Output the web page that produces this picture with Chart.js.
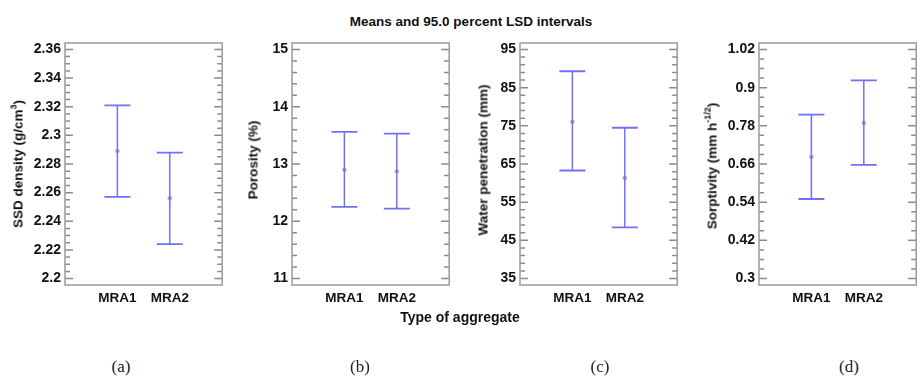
<!DOCTYPE html>
<html>
<head>
  <title>Means and 95.0 percent LSD intervals</title>
  <script src="https://cdn.jsdelivr.net/npm/chart.js"></script>
  <style>
    body { margin:0; width:922px; height:377px; overflow:hidden; background:#fff; position:relative; font-family:"Liberation Sans", Arial, sans-serif; color:#111; }
    canvas { position:absolute; top:0; }
    .bold { position:absolute; font-weight:bold; white-space:nowrap; transform:translate(-50%,-50%); }
    .ytitle { position:absolute; font-weight:bold; font-size:13.5px; white-space:nowrap; transform:translate(-50%,-50%) rotate(-90deg); }
    .ytitle sup { font-size:9px; vertical-align:6px; line-height:0; }
    .sub { position:absolute; font-family:"Liberation Serif", "DejaVu Serif", serif; font-size:17px; color:#222; transform:translate(-50%,-50%); }
  </style>
</head>
<body>
  <div class="bold" style="left:471px; top:21px; font-size:13.5px">Means and 95.0 percent LSD intervals</div>

  <canvas id="chartA" width="222" height="315" style="left:15px"></canvas>
  <canvas id="chartB" width="222" height="315" style="left:242px"></canvas>
  <canvas id="chartC" width="222" height="315" style="left:470px"></canvas>
  <canvas id="chartD" width="222" height="315" style="left:709px"></canvas>

  <div class="ytitle" style="left:18px; top:164px">SSD density (g/cm<sup>3</sup>)</div>
  <div class="ytitle" style="left:253px; top:160px">Porosity (%)</div>
  <div class="ytitle" style="left:483px; top:160px">Water penetration (mm)</div>
  <div class="ytitle" style="left:712px; top:166px">Sorptivity (mm h<sup>-1/2</sup>)</div>

  <div class="bold" style="left:460px; top:317px; font-size:14px">Type of aggregate</div>

  <div class="sub" style="left:121px; top:367px">(a)</div>
  <div class="sub" style="left:360px; top:367px">(b)</div>
  <div class="sub" style="left:600px; top:367px">(c)</div>
  <div class="sub" style="left:849px; top:367px">(d)</div>

  <script>
    const groups = ['MRA1', 'MRA2'];

    // (a) SSD density
    const ssdMean = [2.289, 2.256];
    const ssdLow = [2.257, 2.224];
    const ssdHigh = [2.321, 2.288];
    const ssdTicks = [2.2, 2.22, 2.24, 2.26, 2.28, 2.3, 2.32, 2.34, 2.36];

    // (b) porosity
    const porMean = [12.90, 12.87];
    const porLow = [12.25, 12.22];
    const porHigh = [13.56, 13.53];
    const porTicks = [11, 12, 13, 14, 15];

    // (c) water penetration
    const wpMean = [76.1, 61.3];
    const wpLow = [63.3, 48.4];
    const wpHigh = [89.3, 74.5];
    const wpTicks = [35, 45, 55, 65, 75, 85, 95];

    // (d) sorptivity
    const sorMean = [0.682, 0.789];
    const sorLow = [0.550, 0.657];
    const sorHigh = [0.815, 0.923];
    const sorTicks = [0.3, 0.42, 0.54, 0.66, 0.78, 0.9, 1.02];

    const barColor = 'rgb(112,112,255)';
    const meanColor = 'rgb(168,168,140)';

    // box border + inward tick marks on both sides
    const boxTicks = {
      id: 'boxTicks',
      beforeDatasetsDraw(chart, args, opts) {
        const { ctx, chartArea: a } = chart;
        const y = chart.scales.y;
        const majors = opts.majors;
        ctx.save();
        ctx.strokeStyle = '#8a8a8a';
        ctx.lineWidth = 1.5;
        const tick = (v, len) => {
          const py = y.getPixelForValue(v);
          ctx.beginPath();
          ctx.moveTo(a.left, py); ctx.lineTo(a.left + len, py);
          ctx.moveTo(a.right, py); ctx.lineTo(a.right - len, py);
          ctx.stroke();
        };
        for (let i = 0; i < majors.length; i++) {
          tick(majors[i], 8);
          if (i < majors.length - 1) {
            const step = (majors[i + 1] - majors[i]) / opts.sub;
            for (let k = 1; k < opts.sub; k++) tick(majors[i] + k * step, 5);
          }
        }
        ctx.strokeStyle = '#a0a0a0';
        ctx.lineWidth = 1.6;
        ctx.strokeRect(a.left, a.top, a.right - a.left, a.bottom - a.top);
        ctx.restore();
      }
    };

    function makePanel(id, mean, low, high, majors, sub, min, max) {
      const datasets = groups.map((g, i) => ({
        data: [{ x: i + 1, y: low[i] }, { x: i + 1, y: high[i] }],
        showLine: true,
        borderColor: barColor,
        borderWidth: 1.5,
        pointStyle: 'line',
        pointRadius: 13,
        pointBorderColor: barColor,
        pointBorderWidth: 1.8
      }));
      datasets.push({
        data: groups.map((g, i) => ({ x: i + 1, y: mean[i] })),
        pointRadius: 2,
        pointBackgroundColor: meanColor,
        pointBorderColor: meanColor,
        pointBorderWidth: 0.5
      });

      new Chart(document.getElementById(id), {
        type: 'scatter',
        data: { datasets: datasets },
        options: {
          responsive: false,
          animation: false,
          layout: { padding: { top: 43, right: 2, left: 0, bottom: 0 } },
          plugins: {
            legend: { display: false },
            tooltip: { enabled: false },
            boxTicks: { majors: majors, sub: sub }
          },
          scales: {
            x: {
              type: 'linear',
              min: 0,
              max: 3,
              grid: { display: false, drawTicks: false },
              border: { display: false },
              afterBuildTicks: s => { s.ticks = groups.map((g, i) => ({ value: i + 1 })); },
              afterFit: s => { s.height = 30; },
              ticks: {
                padding: 5,
                color: '#111',
                font: { family: 'Liberation Sans', size: 13.5, weight: 'bold' },
                callback: (v, i) => groups[i]
              }
            },
            y: {
              min: min,
              max: max,
              grid: { display: false, drawTicks: false },
              border: { display: false },
              afterBuildTicks: s => { s.ticks = majors.map(v => ({ value: v })); },
              afterFit: s => { s.width = 50; },
              ticks: {
                padding: 4,
                color: '#111',
                font: { family: 'Liberation Sans', size: 14, weight: 'bold' },
                callback: v => String(v)
              }
            }
          }
        },
        plugins: [boxTicks]
      });
    }

    makePanel('chartA', ssdMean, ssdLow, ssdHigh, ssdTicks, 4, 2.1955, 2.3645);
    makePanel('chartB', porMean, porLow, porHigh, porTicks, 5, 10.886, 15.114);
    makePanel('chartC', wpMean, wpLow, wpHigh, wpTicks, 5, 33.3, 96.7);
    makePanel('chartD', sorMean, sorLow, sorHigh, sorTicks, 4, 0.2796, 1.0404);
  </script>
</body>
</html>
